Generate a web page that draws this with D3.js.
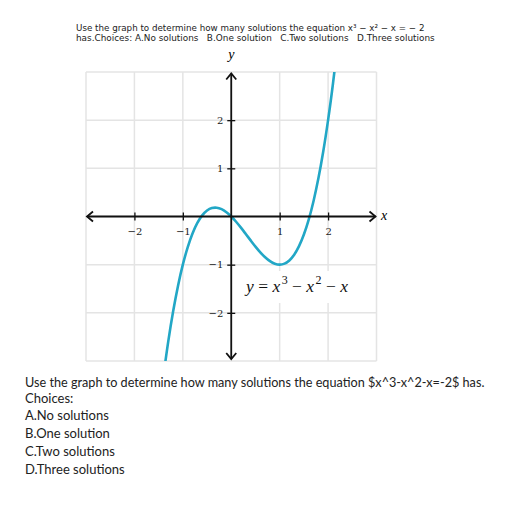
<!DOCTYPE html>
<html><head><meta charset="utf-8">
<script src="https://cdn.jsdelivr.net/npm/d3@7"></script>
<style>body{margin:0;background:#fff}svg{display:block}text{white-space:pre}</style>
</head><body>
<script>
// ---- data ----
const gridValues = [-3,-2,-1,0,1,2,3];
const xTickValues = [-2,-1,1,2];
const yTickValues = [-2,-1,1,2];
const curveX = [-1.4,-1.3,-1.2,-1.1,-1.0,-0.9,-0.8,-0.7,-0.6,-0.5,-0.4,-0.3,-0.2,-0.1,0,0.1,0.2,0.3,0.4,0.5,0.6,0.7,0.8,0.9,1.0,1.1,1.2,1.3,1.4,1.5,1.6,1.7,1.8,1.9,2.0,2.1,2.2];
const curveY = [-3.304,-2.587,-1.968,-1.441,-1,-0.639,-0.352,-0.133,0.024,0.125,0.176,0.183,0.152,0.089,0,-0.109,-0.232,-0.363,-0.496,-0.625,-0.744,-0.847,-0.928,-0.981,-1,-0.979,-0.912,-0.793,-0.616,-0.375,-0.064,0.323,0.792,1.349,2,2.751,3.608];
const titleLines = ["Use the graph to determine how many solutions the equation x³ − x² − x = − 2",
  "has.Choices: A.No solutions   B.One solution   C.Two solutions   D.Three solutions"];
const bodyLines = ["Use the graph to determine how many solutions the equation $x^3-x^2-x=-2$ has.",
  "Choices:", "A.No solutions", "B.One solution", "C.Two solutions", "D.Three solutions"];

const svg = d3.select("body").append("svg").attr("width",512).attr("height",512);

function fit(t, w){ const cur = t.node().getComputedTextLength(); const fs = parseFloat(t.attr("font-size")); t.attr("font-size", fs*w/cur); }

// title
const t1 = svg.append("text").attr("x",76).attr("y",30.5).attr("font-family","DejaVu Sans").attr("font-size",9.5).attr("fill","#222").text(titleLines[0]);
fit(t1, 349);
const t2 = svg.append("text").attr("x",76).attr("y",41).attr("font-family","DejaVu Sans").attr("font-size",9.5).attr("fill","#222").text(titleLines[1]);
fit(t2, 359);

// scales
const x = d3.scaleLinear().domain([-3,3]).range([86,376.5]);
const y = d3.scaleLinear().domain([-3,3]).range([361,72]);

// grid
const g = svg.append("g");
g.selectAll("line.v").data(gridValues).join("line").attr("x1",d=>x(d)).attr("x2",d=>x(d)).attr("y1",y(3)).attr("y2",y(-3)).attr("stroke","#e4e4e4").attr("stroke-width",1.5);
g.selectAll("line.h").data(gridValues).join("line").attr("y1",d=>y(d)).attr("y2",d=>y(d)).attr("x1",x(-3)).attr("x2",x(3)).attr("stroke","#e4e4e4").attr("stroke-width",1.5);

// curve
svg.append("clipPath").attr("id","clip").append("rect").attr("x",x(-3)).attr("y",y(3)).attr("width",x(3)-x(-3)).attr("height",y(-3)-y(3));
const pts = curveX.map((v,i)=>[v,curveY[i]]);
svg.append("path").attr("clip-path","url(#clip)").attr("d", d3.line().x(d=>x(d[0])).y(d=>y(d[1])).curve(d3.curveCatmullRom)(pts))
  .attr("fill","none").attr("stroke","#22a7c6").attr("stroke-width",2.6);

// axes lines with chevrons
const ax = svg.append("g").attr("stroke","#111").attr("stroke-width",1.8).attr("fill","none");
ax.append("line").attr("x1",x(-3)+1).attr("x2",x(3)-1).attr("y1",y(0)).attr("y2",y(0));
ax.append("line").attr("y1",y(3)+1.5).attr("y2",y(-3)-2).attr("x1",x(0)).attr("x2",x(0));
const ch = 6, cw = 5;
ax.append("path").attr("d",`M${x(-3)+1+ch},${y(0)-cw}L${x(-3)+1},${y(0)}L${x(-3)+1+ch},${y(0)+cw}`);
ax.append("path").attr("d",`M${x(3)-1-ch},${y(0)-cw}L${x(3)-1},${y(0)}L${x(3)-1-ch},${y(0)+cw}`);
ax.append("path").attr("d",`M${x(0)-cw},${y(3)+1.5+ch}L${x(0)},${y(3)+1.5}L${x(0)+cw},${y(3)+1.5+ch}`);
ax.append("path").attr("d",`M${x(0)-cw},${y(-3)-2-ch}L${x(0)},${y(-3)-2}L${x(0)+cw},${y(-3)-2-ch}`);

// tick axes
const xa = svg.append("g").attr("transform",`translate(0,${y(0)})`)
  .call(d3.axisBottom(x).tickValues(xTickValues).tickSize(4).tickPadding(7).tickFormat(d3.format("")));
xa.select(".domain").remove();
xa.selectAll(".tick line").attr("y1",-4).attr("stroke","#111").attr("stroke-width",1.3);
xa.selectAll(".tick text").attr("font-family","DejaVu Serif").attr("font-size",10).attr("fill","#222");
const ya = svg.append("g").attr("transform",`translate(${x(0)},0)`)
  .call(d3.axisLeft(y).tickValues(yTickValues).tickSize(4).tickPadding(4).tickFormat(d3.format("")));
ya.select(".domain").remove();
ya.selectAll(".tick line").attr("x1",4).attr("stroke","#111").attr("stroke-width",1.3);
ya.selectAll(".tick text").attr("font-family","DejaVu Serif").attr("font-size",10).attr("fill","#222");

// axis labels
svg.append("text").attr("x",x(0)).attr("y",59).attr("text-anchor","middle").attr("font-family","Liberation Serif").attr("font-style","italic").attr("font-size",14).text("y");
svg.append("text").attr("x",384).attr("y",220).attr("text-anchor","middle").attr("font-family","Liberation Serif").attr("font-style","italic").attr("font-size",14).text("x");

// equation label
svg.append("rect").attr("x",243).attr("y",271).attr("width",120).attr("height",32).attr("fill","#fff");
const eq = svg.append("text").attr("x",246).attr("y",292).attr("font-family","Liberation Serif").attr("font-size",17.5).attr("fill","#111");
eq.append("tspan").attr("font-style","italic").text("y");
eq.append("tspan").text(" = ");
eq.append("tspan").attr("font-style","italic").text("x");
eq.append("tspan").attr("font-size",12).attr("dx",1.5).attr("dy",-8).text("3");
eq.append("tspan").attr("dy",8).text(" − ");
eq.append("tspan").attr("font-style","italic").text("x");
eq.append("tspan").attr("font-size",12).attr("dx",1.5).attr("dy",-8).text("2");
eq.append("tspan").attr("dy",8).text(" − ");
eq.append("tspan").attr("font-style","italic").text("x");

// body text
const bodyY = [386.5, 402.5, 420, 438, 456, 474];
bodyLines.forEach((s,i)=>{
  const t = svg.append("text").attr("x",25).attr("y",bodyY[i]).attr("font-family","Lato").attr("font-size",13).attr("fill","#222").text(s);
  if(i===0) fit(t, 460);
});
</script>
</body></html>
